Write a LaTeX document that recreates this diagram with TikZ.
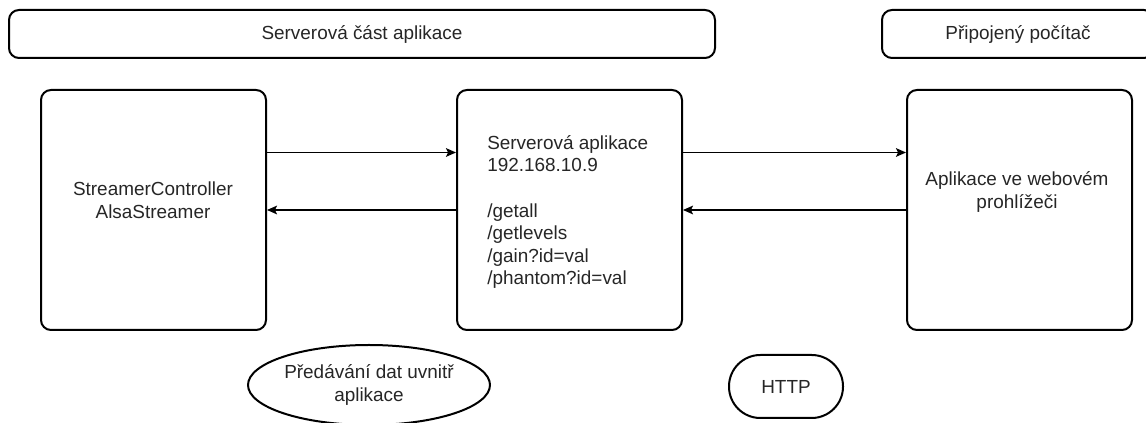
\documentclass[tikz,border=0pt]{standalone}
\usepackage{fontspec}
\setmainfont{Liberation Sans}
\usetikzlibrary{arrows.meta,shapes.geometric}
\begin{document}
\begin{tikzpicture}[x=0.75pt,y=-0.75pt,line join=round,
  every node/.style={font=\fontsize{14.2pt}{16.9pt}\selectfont,text=black!85},
  frame/.style={draw=black,line width=1.5pt,rounded corners=7.5pt,inner sep=0pt},
  conn/.style={draw=black,line width=1.1pt,-{Stealth[length=7.5pt,width=6.5pt,inset=1.5pt]}},
  txt/.style={inner sep=0pt,align=center}]
\useasboundingbox (0,0) rectangle (1146,423);
\clip (0,0) rectangle (1146,423);
% banners
\node[frame,minimum width=529.5pt,minimum height=36pt] (B1) at (362,34) {Serverová část aplikace};
\node[frame,minimum width=204pt,minimum height=36pt] (B2) at (1018,34) {Připojený počítač};
% boxes
\node[frame,minimum width=168.75pt,minimum height=180pt] (L) at (153.5,210) {};
\node[frame,minimum width=168.75pt,minimum height=180pt] (M) at (569.5,210) {};
\node[frame,minimum width=168.75pt,minimum height=180pt] (R) at (1019.5,210) {};
\node[txt] (Lt) at (153,200) {StreamerController\\AlsaStreamer};
\node[txt,align=left,anchor=west] (Mt) at (487,212) {Serverová aplikace\\192.168.10.9\\~\\/getall\\/getlevels\\/gain?id=val\\/phantom?id=val};
\node[txt] (Rt) at (1017,192) {Aplikace ve webovém\\prohlížeči};
% bottom labels
\node[draw=black,line width=1.5pt,ellipse,inner sep=0pt,minimum width=181.5pt,minimum height=60pt,align=center] (E) at (369,385) {Předávání dat uvnitř\\aplikace};
\node[frame,rounded corners=23.5pt,minimum width=85.5pt,minimum height=47.25pt] (H) at (786,386.5) {HTTP};
% connectors
\coordinate (yU) at (0,152.5);
\draw[conn] (L.east |- yU) -- (M.west |- yU);
\draw[conn] (M.west) -- (L.east);
\draw[conn] (M.east |- yU) -- (R.west |- yU);
\draw[conn] (R.west) -- (M.east);
\end{tikzpicture}
\end{document}
